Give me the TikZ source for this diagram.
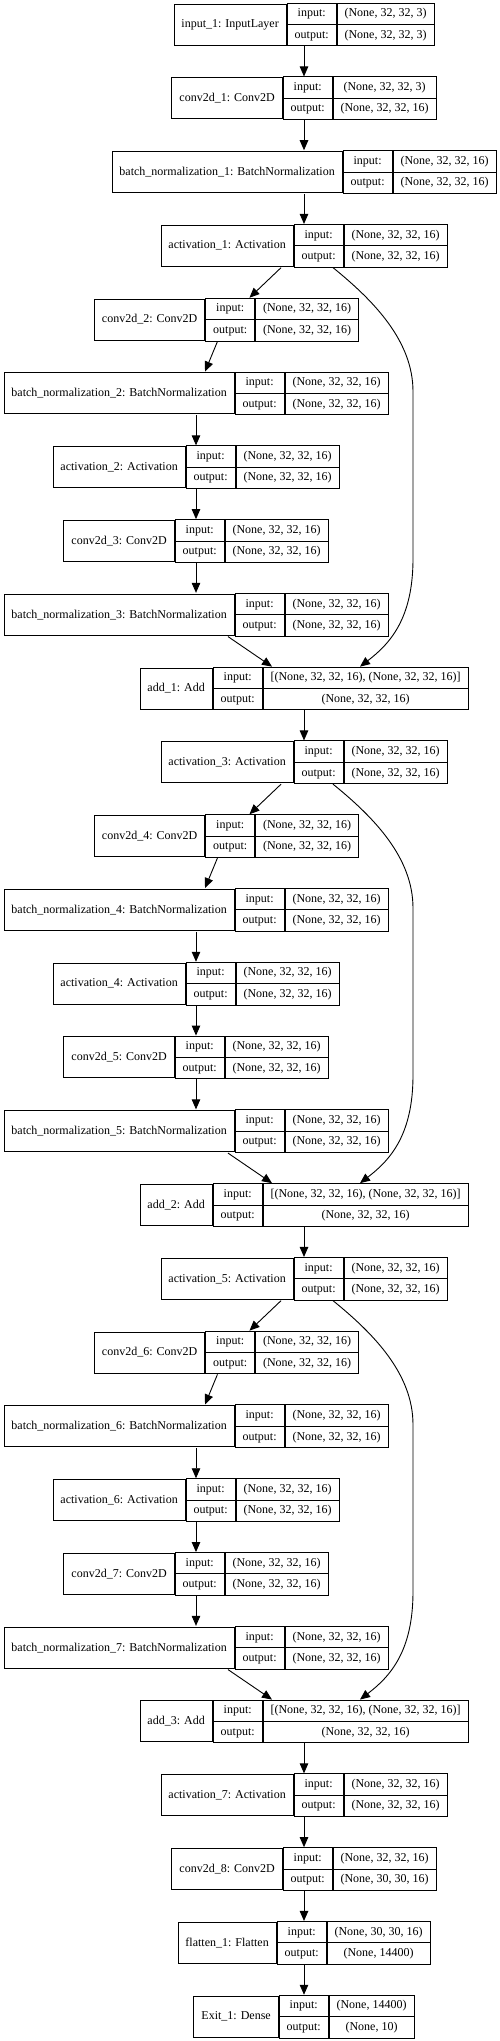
\documentclass[tikz,border=0pt]{standalone}
\usepackage{fontspec}
\setmainfont{Liberation Serif}
\usetikzlibrary{arrows.meta,calc,shapes.multipart}

\newcommand{\recfont}{\fontsize{12}{14}\selectfont}
\newcommand{\st}{\rule[-2.6pt]{0pt}{11.2pt}}

\tikzset{
  rec/.style={matrix, inner sep=0pt, outer sep=0pt, column sep=0pt, ampersand replacement=\&},
  lab/.style={draw, line width=0.9pt, inner xsep=7.5pt, inner ysep=0pt, outer sep=0pt,
    minimum height=41pt, anchor=center, font=\recfont},
  cols/.style={draw, line width=0.9pt, rectangle split, rectangle split parts=2,
    inner xsep=7.5pt, inner ysep=4.65pt, outer sep=0pt, anchor=center, font=\recfont},
  arr/.style={line width=0.9pt, -{Triangle[length=10pt,width=8.5pt]}}
}

% one layer as a record: name | input:/output: | shapes
% #1 node name, #2 centre, #3 label, #4 input shape, #5 output shape
\newcommand{\layer}[5]{%
  \node[rec] (#1) at #2 {
    \node[lab] (#1-lab) {#3}; \&
    \node[cols] (#1-io) {\st input:\nodepart{two}\st output:}; \&
    \node[cols] (#1-val) {\st #4\nodepart{two}\st #5}; \\
  };
}

\begin{document}
\begin{tikzpicture}[x=1pt,y=-1pt]
  \useasboundingbox (0,0) rectangle (500,2041);

  % stem
  \layer{in1}{(304,24.5)}{input\_1: InputLayer}{(None, 32, 32, 3)}{(None, 32, 32, 3)}
  \layer{conv1}{(304,98.3)}{conv2d\_1: Conv2D}{(None, 32, 32, 3)}{(None, 32, 32, 16)}
  \layer{bn1}{(304,172.1)}{batch\_normalization\_1: BatchNormalization}{(None, 32, 32, 16)}{(None, 32, 32, 16)}
  \layer{act1}{(304,245.8)}{activation\_1: Activation}{(None, 32, 32, 16)}{(None, 32, 32, 16)}

  % block 1
  \layer{conv2}{(226.5,319.6)}{conv2d\_2: Conv2D}{(None, 32, 32, 16)}{(None, 32, 32, 16)}
  \layer{bn2}{(196,393.4)}{batch\_normalization\_2: BatchNormalization}{(None, 32, 32, 16)}{(None, 32, 32, 16)}
  \layer{act2}{(196,467.2)}{activation\_2: Activation}{(None, 32, 32, 16)}{(None, 32, 32, 16)}
  \layer{conv3}{(196,541.0)}{conv2d\_3: Conv2D}{(None, 32, 32, 16)}{(None, 32, 32, 16)}
  \layer{bn3}{(196,614.7)}{batch\_normalization\_3: BatchNormalization}{(None, 32, 32, 16)}{(None, 32, 32, 16)}
  \layer{add1}{(304,688.5)}{add\_1: Add}{[(None, 32, 32, 16), (None, 32, 32, 16)]}{(None, 32, 32, 16)}
  \layer{act3}{(304,762.3)}{activation\_3: Activation}{(None, 32, 32, 16)}{(None, 32, 32, 16)}

  % block 2
  \layer{conv4}{(226.5,836.1)}{conv2d\_4: Conv2D}{(None, 32, 32, 16)}{(None, 32, 32, 16)}
  \layer{bn4}{(196,909.9)}{batch\_normalization\_4: BatchNormalization}{(None, 32, 32, 16)}{(None, 32, 32, 16)}
  \layer{act4}{(196,983.6)}{activation\_4: Activation}{(None, 32, 32, 16)}{(None, 32, 32, 16)}
  \layer{conv5}{(196,1057.4)}{conv2d\_5: Conv2D}{(None, 32, 32, 16)}{(None, 32, 32, 16)}
  \layer{bn5}{(196,1131.2)}{batch\_normalization\_5: BatchNormalization}{(None, 32, 32, 16)}{(None, 32, 32, 16)}
  \layer{add2}{(304,1205.0)}{add\_2: Add}{[(None, 32, 32, 16), (None, 32, 32, 16)]}{(None, 32, 32, 16)}
  \layer{act5}{(304,1278.8)}{activation\_5: Activation}{(None, 32, 32, 16)}{(None, 32, 32, 16)}

  % block 3
  \layer{conv6}{(226.5,1352.5)}{conv2d\_6: Conv2D}{(None, 32, 32, 16)}{(None, 32, 32, 16)}
  \layer{bn6}{(196,1426.3)}{batch\_normalization\_6: BatchNormalization}{(None, 32, 32, 16)}{(None, 32, 32, 16)}
  \layer{act6}{(196,1500.1)}{activation\_6: Activation}{(None, 32, 32, 16)}{(None, 32, 32, 16)}
  \layer{conv7}{(196,1573.9)}{conv2d\_7: Conv2D}{(None, 32, 32, 16)}{(None, 32, 32, 16)}
  \layer{bn7}{(196,1647.7)}{batch\_normalization\_7: BatchNormalization}{(None, 32, 32, 16)}{(None, 32, 32, 16)}
  \layer{add3}{(304,1721.4)}{add\_3: Add}{[(None, 32, 32, 16), (None, 32, 32, 16)]}{(None, 32, 32, 16)}
  \layer{act7}{(304,1795.2)}{activation\_7: Activation}{(None, 32, 32, 16)}{(None, 32, 32, 16)}

  % head
  \layer{conv8}{(304,1869.0)}{conv2d\_8: Conv2D}{(None, 32, 32, 16)}{(None, 30, 30, 16)}
  \layer{flat1}{(304,1942.8)}{flatten\_1: Flatten}{(None, 30, 30, 16)}{(None, 14400)}
  \layer{exit1}{(304,2016.6)}{Exit\_1: Dense}{(None, 14400)}{(None, 10)}

  % edges
  \draw[arr] (in1) -- (conv1);
  \draw[arr] (conv1) -- (bn1);
  \draw[arr] (bn1) -- (act1);

  \draw[arr] (act1) -- (conv2);
  \draw[arr] (conv2) -- (bn2);
  \draw[arr] (bn2) -- (act2);
  \draw[arr] (act2) -- (conv3);
  \draw[arr] (conv3) -- (bn3);
  \draw[arr] (bn3) -- (add1);
  \draw[arr] ($(act1.south)+(29,0)$) .. controls +(42,34) and +(0,-50) .. ($(act1.south)+(109,124)$)
    -- ($(add1.north)+(109,-108)$) .. controls +(0,60) and +(30,-23) .. ($(add1.north)+(56,0)$);
  \draw[arr] (add1) -- (act3);

  \draw[arr] (act3) -- (conv4);
  \draw[arr] (conv4) -- (bn4);
  \draw[arr] (bn4) -- (act4);
  \draw[arr] (act4) -- (conv5);
  \draw[arr] (conv5) -- (bn5);
  \draw[arr] (bn5) -- (add2);
  \draw[arr] ($(act3.south)+(29,0)$) .. controls +(42,34) and +(0,-50) .. ($(act3.south)+(109,124)$)
    -- ($(add2.north)+(109,-108)$) .. controls +(0,60) and +(30,-23) .. ($(add2.north)+(56,0)$);
  \draw[arr] (add2) -- (act5);

  \draw[arr] (act5) -- (conv6);
  \draw[arr] (conv6) -- (bn6);
  \draw[arr] (bn6) -- (act6);
  \draw[arr] (act6) -- (conv7);
  \draw[arr] (conv7) -- (bn7);
  \draw[arr] (bn7) -- (add3);
  \draw[arr] ($(act5.south)+(29,0)$) .. controls +(42,34) and +(0,-50) .. ($(act5.south)+(109,124)$)
    -- ($(add3.north)+(109,-108)$) .. controls +(0,60) and +(30,-23) .. ($(add3.north)+(56,0)$);
  \draw[arr] (add3) -- (act7);

  \draw[arr] (act7) -- (conv8);
  \draw[arr] (conv8) -- (flat1);
  \draw[arr] (flat1) -- (exit1);
\end{tikzpicture}
\end{document}
